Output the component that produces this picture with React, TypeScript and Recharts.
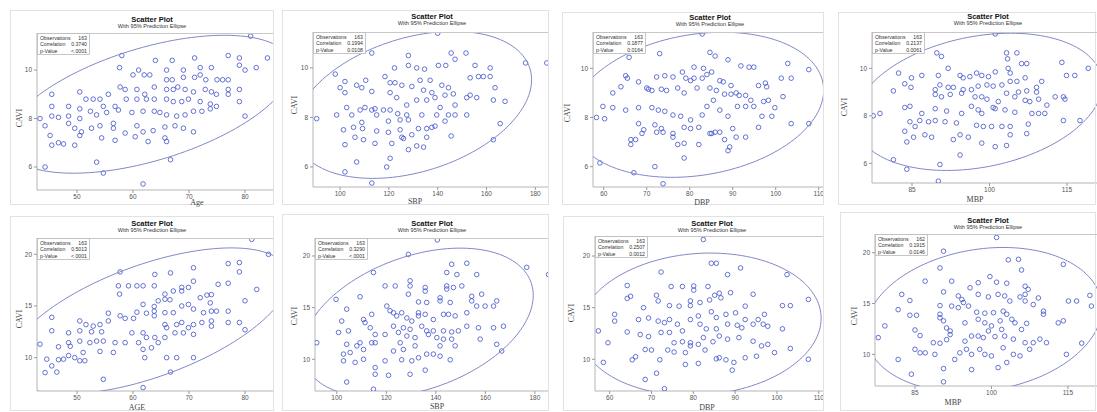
import { ScatterChart, Scatter, XAxis, YAxis } from 'recharts'

type Pt = [number, number]

// CAVI vs clinical variables
const ageCaviTop: Pt[] = [
  [81,11.4],[58,10.6],[64,10.4],[67,10.4],[71,10.5],[77,10.6],[79,10.5],[84,10.5],
  [57.6,10.1],[61,10.0],[66,10.0],[69,10.0],[72,10.1],[74,10.1],[79,10.2],[80,10.0],[82,10.1],
  [60,9.8],[62,9.8],[63,9.8],[66,9.6],[67,9.6],[69,9.7],[71,9.7],[72,9.8],[73,9.6],[75,9.6],[76,9.6],[77,9.6],
  [45.5,9.0],[50.5,9.1],[51.6,8.8],[52.9,8.8],[54.1,8.8],[55.6,9.0],[57.7,9.3],[58.6,9.2],[60.7,9.2],[62.1,9.0],[63.8,9.3],[66,9.2],[67.2,9.2],[68,9.3],[69.3,9.2],[70.8,9.1],[72.9,9.2],[74,9.1],[74.9,9.0],[77,9.2],[79,9.2],
  [45.5,8.5],[48.5,8.5],[50.5,8.4],[52.4,8.3],[54.7,8.5],[56.8,8.5],[58.8,8.8],[60.7,8.8],[62.4,8.8],[63.8,8.8],[66,8.8],[67.2,8.7],[68.7,8.7],[69.9,8.8],[72,8.7],[73.8,8.6],[74.9,8.5],[77,9.0],[79,8.7],
  [45.5,8.1],[46.7,8.05],[48.5,8.1],[50.5,8.0],[53.5,8.15],[55.3,8.25],[57.4,8.35],[59.8,8.25],[61.8,8.3],[63.8,8.3],[64.8,8.25],[66,8.15],[67.8,8.1],[69.3,8.15],[70.8,8.3],[72.3,8.3],[73.8,8.4],[80,8.1],
  [43.4,8.0],[44.3,7.7],[48.5,7.8],[49.6,7.6],[50.8,7.45],[52.6,7.6],[54.1,7.7],[56.5,7.8],[56.5,7.6],[58.6,7.4],[60.7,7.7],[61.8,7.45],[63.6,7.5],[65.7,7.65],[67.5,7.7],[69,7.6],[70.8,7.45],
  [45.2,7.3],[46.7,7.0],[45.5,6.9],[47.6,6.95],[49.6,6.9],[50.5,7.3],[54.4,7.2],[56.8,7.1],[60.4,7.25],[62.7,7.05],[65.7,7.2],[66,7.05],
  [44.3,6.0],[53.5,6.2],[54.7,5.75],[61.8,5.3],[66.7,6.3],
]

const sbpCaviTop: Pt[] = [
  [140,11.4],[113,10.6],[128,10.5],[145.5,10.6],[151.6,10.6],[176,10.2],[184.7,10.2],
  [98,9.75],[118.4,9.65],[122.3,10.0],[128,10.1],[131.4,10.0],[134.6,9.95],[140.3,10.1],[143.3,10.1],[147.1,10.35],[155.3,10.1],[161.5,10.0],
  [110.5,9.5],[102,9.45],[106.8,9.3],[108.9,9.2],[113,9.05],[120.5,9.4],[122.5,9.4],[125.3,9.3],[129.4,9.25],[132.8,9.5],[136.9,9.5],[134.2,9.1],[137.6,9.0],[141.7,9.3],[144.4,9.2],[146.4,8.95],[153.3,9.6],[156.7,9.65],[158.7,9.65],[161.5,9.65],[163.5,9.2],[167.6,8.65],
  [100,9.2],[102,9.0],[120.5,9.0],[123.2,8.8],[127.3,8.5],[131.4,8.7],[135.5,8.7],[138.9,8.8],[143,8.9],[141,8.4],[147.1,8.5],[151.9,8.8],[156,8.8],[153.3,8.9],[162.8,8.7],
  [102.7,8.4],[108.2,8.3],[110.2,8.4],[113,8.3],[114.3,8.35],[117.8,8.3],[120.5,8.3],[123.6,8.15],[127.3,8.1],[133.5,8.1],[139.6,8.1],[144.4,8.1],[147.1,8.1],[151.9,8.1],
  [90.4,7.95],[98.6,8.1],[104.8,8.1],[108.9,7.8],[115,8.1],[119.8,7.85],[124.6,7.9],[128,7.9],[132.1,7.55],[135.5,7.55],[138.9,7.65],[143,7.85],
  [101.4,7.5],[105.5,7.6],[109.2,7.55],[114.3,6.95],[115,7.45],[119.8,7.4],[124.6,7.5],[125.3,7.2],[129.4,7.3],[131.4,6.85],[135.5,7.2],[137.6,7.6],
  [102,6.9],[106.1,7.2],[109.6,7.1],[121.2,6.95],[126,7.15],[128,6.7],[134.2,6.8],[145.5,7.25],[162.8,7.1],[165.6,7.75],
  [106.8,6.2],[102,5.8],[113,5.35],[120.5,6.35],[119.1,6.0],
]

const dbpCaviTop: Pt[] = [
  [82.9,11.4],[73,10.6],[84.7,10.65],[85.9,10.5],[88.9,10.35],[65.9,10.45],[102.8,10.2],[107.7,9.95],[91.9,10.1],[93.8,10.05],[94.9,10.05],[81,10.05],[83.2,10.0],[78.3,9.85],
  [65.1,9.7],[65.5,9.6],[68.1,9.45],[64,9.25],[62.1,9.0],[70.4,9.15],[72.3,9.65],[74.2,9.7],[76.1,9.65],[79.1,9.6],[80.2,9.5],[81,9.6],[82.9,9.6],[84,9.75],[85.1,9.85],[87,9.5],[87.8,9.45],[89.6,9.3],[91.5,8.9],[93,8.9],[96,9.3],[97.6,9.4],[97.9,9.25],[101.3,9.6],[103.6,9.6],
  [70,9.2],[71.2,9.1],[73.4,9.15],[74.6,9.1],[77.2,9.2],[78.7,9.0],[81.7,9.2],[84.7,9.2],[86.2,9.1],[88.1,8.95],[89.6,8.95],[90.8,9.0],[94.2,8.7],[97.2,8.65],[98.3,8.7],[99.8,8.4],[101.7,8.85],
  [59.8,8.45],[62.1,8.4],[65.1,8.3],[68.1,8.4],[71.2,8.4],[72.7,8.3],[74.2,8.25],[76.1,8.1],[77.9,8.05],[80.2,7.9],[82.9,8.1],[84,8.45],[85.5,8.7],[87,8.3],[88.9,8.05],[91.1,8.45],[93,8.45],[94.9,8.45],[96.8,8.05],[99.1,8.05],
  [58.3,8.0],[60.2,7.95],[68.1,7.75],[69.3,7.5],[71.9,7.7],[73.4,7.55],[76.1,7.35],[78.7,7.6],[80.2,7.55],[82.1,7.6],[85.1,7.35],[87,7.4],[90,7.55],[96,7.6],[103.6,7.75],[107.7,7.75],
  [66.3,7.1],[68.9,7.35],[72.3,7.4],[73.8,7.4],[76.1,7.2],[77.2,6.9],[78.7,6.95],[82.1,6.9],[84.7,7.35],[85.9,7.4],[88.1,7.1],[90.8,7.2],[93,7.2],[66.3,6.9],[67.4,7.1],
  [78.7,6.35],[88.9,6.65],[89.3,6.8],[59.1,6.15],[67,5.75],[71.9,6.0],[73.8,5.3],
]

const mbpCaviTop: Pt[] = [
  [101.1,11.45],[89.8,10.65],[90.7,10.5],[103.3,10.65],[105.3,10.65],[103.5,10.4],[114,10.25],[119.1,10.0],
  [82.4,9.8],[84.9,9.6],[86.9,9.7],[90.1,9.7],[92,10.0],[94.3,9.7],[94.9,9.6],[96.2,9.65],[97.5,9.8],[98.5,9.7],[99.8,9.65],[101.1,9.85],[103.6,10.0],[106.2,10.2],[107.2,10.2],[104,9.8],[106.9,9.6],[110.1,9.45],[114.9,9.7],[116.5,9.7],
  [81.4,9.05],[83.6,9.35],[84.8,9.2],[89.5,9.1],[90.4,9.3],[92,9.2],[93,9.2],[94.9,9.1],[96.5,9.1],[97.8,9.25],[99.5,9.3],[100.7,9.25],[102.4,9.3],[104,9.45],[105.3,9.45],[105.6,9.0],[107.2,9.05],[109.1,9.2],[109.1,9.0],[112.7,8.8],[114.3,8.8],[114.6,8.7],
  [83.6,8.35],[84.6,8.4],[89.5,8.9],[90.7,8.8],[92.4,8.9],[94.6,8.95],[97.2,8.8],[98.5,8.8],[99.5,8.7],[100.7,8.35],[101.7,8.6],[103.3,8.95],[104.9,8.8],[106.9,8.65],[107.8,8.6],[109.5,8.7],[111.1,8.45],
  [86.9,8.1],[89.5,8.3],[91.7,8.2],[94.6,8.1],[96.5,8.4],[97.8,8.25],[98.5,8.1],[101.1,8.3],[103,8.25],[104.9,8.15],[108.2,8.1],[109.5,8.1],[110.7,8.1],[77.5,8.0],[78.8,8.1],
  [84.6,7.75],[85.6,7.55],[86.5,7.8],[88.2,7.75],[89.5,7.8],[91.4,7.75],[93.6,7.7],[97.5,7.6],[98.8,7.55],[100.4,7.55],[102.4,7.55],[104,7.55],[107.5,7.65],[114.3,7.8],[117.5,7.8],
  [83.6,7.35],[85.3,7.1],[87.5,7.2],[88.8,7.1],[93,7.0],[94.3,7.2],[95.9,7.1],[98.5,6.85],[101.1,6.7],[103.3,6.75],[104,7.2],[107.2,7.25],[84,6.9],
  [81.4,6.15],[84,5.75],[90.4,5.95],[94.3,6.35],[90.1,5.25],
]

const ageCaviBottom: Pt[] = [
  [81.2,21.45],[84.2,20.0],[70.8,18.7],[57.7,18.3],[63.9,18.05],[66.7,18.2],[77,19.1],[79,19.2],[79,18.3],
  [70.8,17.4],[68.7,16.8],[68.7,16.45],[69.9,16.8],[67.2,16.45],[65.7,16.15],[60.7,16.95],[61.8,16.95],[63.8,16.95],[57.4,16.95],[59.2,16.95],[57.6,16.15],[77,17.2],[75.2,17.1],[73.2,16.05],[72,15.8],[74,16.1],[80,15.5],[82.1,16.6],
  [65.7,15.65],[64.5,15.5],[66.6,15.6],[61.8,15.15],[63.8,14.95],[62.4,14.3],[63.8,14.5],[63.8,14.05],[65.7,14.35],[67.2,14.35],[68.7,15.0],[69.9,15.15],[70.8,14.7],[72.6,14.35],[73.8,15.3],[74,14.5],[74.9,14.5],[77,14.5],
  [55.6,14.3],[57.7,14.05],[58.6,13.8],[60.1,13.8],[60.7,14.4],[65.7,13.2],[66,12.9],[67.8,13.2],[68.7,13.4],[69.9,12.9],[70.8,13.2],[72.3,13.4],[74,13.55],[74,13.05],[77,13.4],[79,13.4],
  [45.5,13.9],[50.5,13.55],[51.6,13.2],[52.9,13.05],[54.1,13.2],[55.6,13.55],[45.5,12.6],[48.5,12.4],[50.5,12.6],[52.6,12.5],[54.4,12.5],[59.8,12.4],[61.8,12.4],[62.4,11.95],[63.9,11.95],[65.7,11.95],[67.5,12.4],[69,12.4],[70.8,12.25],[80,12.7],
  [43.4,11.3],[46.7,11.05],[48.5,11.45],[48.8,11.1],[50.5,11.6],[52.3,11.45],[53.5,11.6],[54.7,11.6],[56.8,11.45],[58.6,11.45],[61,11.45],[61.8,10.8],[63.3,10.95],[64.5,11.45],
  [56.5,10.5],[54.1,10.6],[51.1,10.5],[49.6,10.0],[50.5,9.7],[51.4,9.7],[48.5,10.2],[47.6,9.85],[46.7,9.8],[44.6,9.85],[45.5,9.2],[46.4,8.6],[44.3,8.55],
  [67.8,10.0],[66,10.0],[70.8,10.0],[62.1,10.0],[66.7,8.6],[54.7,7.9],[61.8,7.1],
]

const sbpCaviBottom: Pt[] = [
  [140.6,21.55],[128.9,20.15],[152.5,19.3],[176.7,18.9],[185.5,18.2],[114.8,18.4],[146.4,19.2],[156.5,18.2],[144.4,18.4],[148.5,18.2],[158.5,16.3],
  [99.7,15.8],[104,14.85],[109.4,16.05],[119.5,17.1],[123.6,17.1],[129.6,17.6],[129.6,17.1],[135.7,16.95],[135.7,16.6],[144.4,17.1],[144.4,16.8],[147.1,16.95],[150.5,17.1],[154.5,16.1],[154.5,15.65],
  [128.9,16.3],[133,15.55],[136.3,15.5],[141.7,15.95],[141.7,15.65],[145.8,15.5],[147.8,14.2],[152.5,14.5],[156.5,15.15],[159.9,15.15],[163.3,15.15],[164.6,15.65],
  [102,13.7],[114.1,14.35],[110.8,13.85],[111.4,13.55],[113.5,13.05],[120.2,15.15],[121.5,14.7],[122.9,14.5],[124.2,14.2],[126.2,14.5],[128.3,14.0],[130.3,13.7],[133,14.5],[133,14.2],[135.7,14.35],[139,13.85],[143.1,14.35],[145.1,14.35],[152.5,13.2],[157.2,13.05],[167.3,13.2],[163.3,13.05],
  [104.7,12.75],[115.5,12.4],[122.9,13.2],[126.9,13.05],[129.6,12.9],[134.3,13.2],[136.3,12.75],[139,12.75],[143.1,12.75],[146.4,12.65],[149.1,12.75],
  [115.5,11.6],[119.5,12.4],[124.9,12.6],[125.6,11.6],[128.3,12.25],[131.6,12.1],[137,12.4],[140.4,12.1],[141.7,11.3],[143.1,11.95],[146.4,11.95],[147.8,11.3],[157.9,11.95],[164.6,11.45],[166.6,10.8],
  [91.9,11.6],[100.7,12.6],[109.4,11.6],[110.8,10.95],[114.1,11.6],[108.1,11.3],[104,11.45],[105.4,10.65],[102.7,10.5],[122.9,10.8],[126.9,10.95],[131.6,11.3],[139,10.5],[141.7,10.3],[136.3,10.5],[133,10.15],
  [102.7,9.85],[107.4,9.7],[110.8,10.0],[115.5,9.2],[119.5,9.85],[126.2,9.95],[130.3,9.85],[145.8,9.95],
  [104,7.8],[115.5,8.55],[120.9,8.45],[129.6,8.55],[135.7,8.95],[114.8,7.1],
]

const dbpCaviBottom: Pt[] = [
  [82.4,21.6],[84.3,19.3],[85.5,19.3],[88.2,18.2],[91.3,18.85],[72.3,18.45],[102.4,18.2],
  [64.2,17.15],[65,16.1],[64.2,15.9],[71.2,16.2],[74.7,17.05],[77.4,17.05],[80.1,17.1],[80.1,16.7],[83.5,17.05],[85.1,16.2],[86.2,16.4],[86.6,15.95],[88.9,16.45],[94.3,16.3],[101.3,15.2],[103.2,15.2],[107.5,15.8],
  [68.1,15.0],[71.6,15.65],[74.3,15.2],[76.6,15.15],[79.3,15.65],[79.3,15.2],[81.6,15.5],[83.9,15.75],[84.3,14.6],[85.5,14.05],[87.8,14.35],[90.1,14.5],[92.4,15.15],[92.4,13.85],[95.5,13.85],[97,14.35],
  [61.2,14.35],[61.2,13.7],[66.9,13.85],[69.3,14.0],[71.6,13.7],[73.1,13.55],[74.3,13.85],[76.2,13.4],[77.4,12.75],[79.3,13.85],[81.2,14.2],[81.6,13.4],[83.1,12.95],[85.5,12.95],[88.2,13.4],[90.5,13.3],[91.6,13.05],[94.3,13.4],[96.7,13.4],[97.8,13.2],[101.3,12.95],
  [57.3,12.75],[59.6,11.6],[64.2,12.65],[67.3,12.4],[69.3,12.2],[72.3,12.6],[74.3,12.6],[75.4,11.6],[77.4,11.7],[79.3,11.6],[81.2,11.45],[82.4,12.1],[84.7,11.7],[86.2,12.25],[88.2,11.95],[90.9,12.1],[94.3,11.75],[97.8,11.45],[96.3,11.3],[103.2,11.05],[107.5,10.0],
  [58.5,9.7],[65.4,9.95],[66.2,10.25],[68.5,10.95],[70,10.9],[72,9.95],[73.9,10.9],[75.4,10.7],[78.1,10.65],[79.3,11.3],[82.8,10.9],[85.5,10.05],[86.2,10.15],[89.7,9.7],[92.4,10.15],[95.1,10.3],[99.4,10.65],
  [68.5,8.05],[71.2,8.65],[73.1,7.15],[78.1,9.5],[81.2,9.6],[87.8,9.95],[89.3,8.95],
]

const mbpCaviBottom: Pt[] = [
  [101,21.5],[90.6,20.15],[103.3,19.3],[105.3,19.35],[114.1,18.85],[89.9,18.5],[105.9,18.3],[99.7,17.65],[92.2,17.2],[87,17.2],[95.8,16.55],[97.4,17.05],[101,17.1],[103,17.0],[106.6,16.7],[107.2,16.4],[106.6,15.9],[109.2,15.55],
  [82.4,15.9],[84,15.3],[90.6,16.15],[93.5,15.75],[94.2,15.4],[94.5,15.1],[95.5,14.75],[97.4,15.9],[99.4,15.65],[101.3,15.9],[102.6,15.75],[103.6,15.25],[105.6,15.65],[106.6,15.25],[108.2,14.9],[110.2,14.25],[119.3,15.8],[115.1,15.25],[116.7,15.25],[119.6,14.75],
  [81.7,14.4],[84,13.85],[85.3,13.85],[89.9,14.8],[89.9,13.95],[92.2,14.75],[93.5,14.6],[97.1,14.15],[98.7,14.05],[100.4,14.1],[102.3,14.25],[103,13.95],[104,13.45],[104.6,13.1],[106.9,13.05],[110.2,13.95],
  [79.1,12.8],[85,12.4],[89.9,13.6],[90.6,13.3],[91.2,12.6],[91.9,12.3],[94.8,13.1],[97.4,13.45],[98.7,13.1],[100,12.8],[101.7,13.3],[113.1,13.1],[114.1,13.3],
  [77.8,11.65],[86,11.85],[88.6,11.15],[89.9,11.1],[91.2,11.45],[91.9,11.95],[94.8,11.3],[96.1,11.8],[97.4,11.8],[98.4,11.65],[99.4,12.3],[100.7,11.75],[102,12.45],[102.6,11.8],[104.3,11.5],[105.9,12.45],[106.6,11.15],[108.2,11.15],[109.5,11.5],[110.8,11.15],[117.7,11.1],
  [81.7,9.5],[85,10.5],[86,10.15],[87,10.15],[88.9,10.0],[92.8,9.5],[93.8,10.15],[95.1,10.5],[96.1,10.0],[97.7,10.5],[98.7,10.0],[100,9.85],[102.3,10.65],[104.3,10.0],[105.6,9.85],[107.5,10.5],[114.7,10.0],
  [84.3,8.05],[90.6,8.6],[96.1,8.5],[101.3,8.7],[90.6,7.3],[103,9.2],
]

const ageTicks = [50, 60, 70, 80]
const sbpTicks = [100, 120, 140, 160, 180]
const dbpTicks = [60, 70, 80, 90, 100, 110]
const mbpTicks = [85, 100, 115]
const caviTicksTop = [6, 8, 10]
const caviTicksBottom = [10, 15, 20]

const observations = ['163', '163', '163', '163', '163', '163', '163', '162']
const correlations = ['0.3740', '0.1994', '0.1877', '0.2137', '0.5013', '0.3290', '0.2507', '0.1915']
const pValues = ['<.0001', '0.0108', '0.0164', '0.0061', '<.0001', '<.0001', '0.0012', '0.0146']

const MARK = '#3f50c6'
const ELLIPSE = '#8189c6'
const FONT = '"Liberation Sans", Arial, sans-serif'

// 95% prediction ellipse from the sample mean / covariance
function predictionEllipse(pts: Pt[]) {
  const n = pts.length
  const mx = pts.reduce((s, p) => s + p[0], 0) / n
  const my = pts.reduce((s, p) => s + p[1], 0) / n
  let sxx = 0, syy = 0, sxy = 0
  pts.forEach(([x, y]) => {
    sxx += (x - mx) ** 2
    syy += (y - my) ** 2
    sxy += (x - mx) * (y - my)
  })
  sxx /= n - 1; syy /= n - 1; sxy /= n - 1
  const k = Math.sqrt(((2 * (n - 1) * (n + 1)) / (n * (n - 2))) * 3.05)
  const l11 = Math.sqrt(sxx)
  const l21 = sxy / l11
  const l22 = Math.sqrt(syy - l21 * l21)
  const out: { x: number; y: number }[] = []
  for (let i = 0; i <= 144; i++) {
    const t = (i / 144) * Math.PI * 2
    const u = Math.cos(t) * k
    const v = Math.sin(t) * k
    out.push({ x: mx + l11 * u, y: my + l21 * u + l22 * v })
  }
  return out
}

interface PanelCfg {
  pts: Pt[]
  cell: [number, number, number, number]
  plot: [number, number, number, number]
  frame: [number, number]
  xDomain: [number, number]
  yDomain: [number, number]
  xTicks: number[]
  yTicks: number[]
  xLabel: string
  xLabelPos: [number, number]
  yLabelPos: [number, number]
  titlePos: [number, number]
}

const panels: PanelCfg[] = [
  { pts: ageCaviTop, cell: [0, 0, 275, 206], plot: [37, 33, 273, 190], frame: [10, 10], xDomain: [42.86, 85], yDomain: [5.05, 11.53], xTicks: ageTicks, yTicks: caviTicksTop, xLabel: 'Age', xLabelPos: [197, 203], yLabelPos: [20, 118], titlePos: [152, 20] },
  { pts: sbpCaviTop, cell: [275, 0, 275, 206], plot: [313, 32, 548, 187], frame: [282, 10], xDomain: [88.9, 185.2], yDomain: [5.19, 11.45], xTicks: sbpTicks, yTicks: caviTicksTop, xLabel: 'SBP', xLabelPos: [415, 202], yLabelPos: [295, 105], titlePos: [432, 17] },
  { pts: dbpCaviTop, cell: [550, 0, 275, 206], plot: [593, 32, 823, 187], frame: [562, 12], xDomain: [57.5, 111], yDomain: [5.17, 11.48], xTicks: dbpTicks, yTicks: caviTicksTop, xLabel: 'DBP', xLabelPos: [702, 203], yLabelPos: [568, 113], titlePos: [710, 18] },
  { pts: mbpCaviTop, cell: [825, 0, 272, 206], plot: [872, 32, 1097, 183], frame: [838, 12], xDomain: [77.26, 120.8], yDomain: [5.17, 11.53], xTicks: mbpTicks, yTicks: caviTicksTop, xLabel: 'MBP', xLabelPos: [975, 200], yLabelPos: [845, 107], titlePos: [988, 17] },
  { pts: ageCaviBottom, cell: [0, 206, 275, 206], plot: [37, 238, 273, 391], frame: [10, 216], xDomain: [42.86, 85], yDomain: [6.77, 21.58], xTicks: ageTicks, yTicks: caviTicksBottom, xLabel: 'AGE', xLabelPos: [137, 408], yLabelPos: [20, 319], titlePos: [152, 224] },
  { pts: sbpCaviBottom, cell: [275, 206, 275, 206], plot: [315, 238, 548, 391], frame: [282, 214], xDomain: [91.2, 185.3], yDomain: [6.93, 21.74], xTicks: sbpTicks, yTicks: caviTicksBottom, xLabel: 'SBP', xLabelPos: [437, 407], yLabelPos: [295, 316], titlePos: [432, 224] },
  { pts: dbpCaviBottom, cell: [550, 206, 275, 206], plot: [595, 236, 823, 391], frame: [563, 216], xDomain: [56.5, 111], yDomain: [6.93, 21.94], xTicks: dbpTicks, yTicks: caviTicksBottom, xLabel: 'DBP', xLabelPos: [707, 408], yLabelPos: [572, 313], titlePos: [712, 224] },
  { pts: mbpCaviBottom, cell: [825, 206, 272, 206], plot: [875, 234, 1097, 386], frame: [840, 212], xDomain: [77.16, 120.7], yDomain: [6.89, 21.84], xTicks: mbpTicks, yTicks: caviTicksBottom, xLabel: 'MBP', xLabelPos: [953, 403], yLabelPos: [855, 316], titlePos: [988, 221] },
]

const tickStyle = { fontSize: 6.5, fill: '#555', fontFamily: FONT }

function Marker(props: any) {
  const { cx, cy } = props
  if (cx == null || cy == null) return <g />
  return <circle cx={cx} cy={cy} r={2.3} fill="none" stroke={MARK} strokeWidth={0.8} />
}

function Panel({ p }: { p: PanelCfg }) {
  const [cx, cy, cw, ch] = p.cell
  const [pl, pt, pr, pb] = p.plot
  const pts = p.pts.map(([x, y]) => ({ x, y }))
  const ell = predictionEllipse(p.pts)
  return (
    <div style={{ position: 'absolute', left: cx, top: cy }}>
      <ScatterChart
        width={cw} height={ch}
        margin={{ top: pt - cy, right: cx + cw - pr, bottom: 0, left: 0 }}
      >
        <XAxis
          type="number" dataKey="x" domain={p.xDomain} ticks={p.xTicks} allowDataOverflow
          height={cy + ch - pb} interval={0} tick={tickStyle} tickSize={3} tickMargin={1}
          axisLine={{ stroke: '#b5b5b5' }} tickLine={{ stroke: '#999' }}
        />
        <YAxis
          type="number" dataKey="y" domain={p.yDomain} ticks={p.yTicks} allowDataOverflow
          width={pl - cx} interval={0} tick={tickStyle} tickSize={3} tickMargin={2}
          axisLine={{ stroke: '#b5b5b5' }} tickLine={{ stroke: '#999' }}
        />
        <Scatter data={pts} shape={Marker} isAnimationActive={false} />
        <Scatter
          data={ell} shape={() => <g />} line={{ stroke: ELLIPSE, strokeWidth: 1 }}
          isAnimationActive={false}
        />
      </ScatterChart>
    </div>
  )
}

function Overlay() {
  return (
    <svg width={1097} height={412} style={{ position: 'absolute', left: 0, top: 0, pointerEvents: 'none' }}>
      {panels.map((p, i) => {
        const [cx, cy, cw, ch] = p.cell
        const [pl, pt, pr] = p.plot
        const [fx, fy] = p.frame
        return (
          <g key={i} fontFamily={FONT}>
            <rect x={fx + 0.5} y={fy + 0.5} width={cx + cw - fx - 2} height={cy + ch - fy - 2} fill="none" stroke="#e2e2e2" />
            <line x1={pl} x2={pr} y1={pt + 0.5} y2={pt + 0.5} stroke="#c8c8c8" />
            <text x={p.titlePos[0]} y={p.titlePos[1]} textAnchor="middle" dominantBaseline="middle" fontSize={7.5} fontWeight="bold" fill="#111">
              Scatter Plot
            </text>
            <text x={p.titlePos[0]} y={p.titlePos[1] + 6.5} textAnchor="middle" dominantBaseline="middle" fontSize={5.6} fill="#333">
              With 95% Prediction Ellipse
            </text>
            <rect x={pl + 0.5} y={pt + 0.5} width={52} height={21} fill="#fff" stroke="#b8b8b8" strokeWidth={0.8} />
            {[['Observations', observations[i]], ['Correlation', correlations[i]], ['p-Value', pValues[i]]].map(([k, v], r) => (
              <g key={k} fontSize={5.2} fill="#333">
                <text x={pl + 3} y={pt + 6.5 + r * 6.8}>{k}</text>
                <text x={pl + 50} y={pt + 6.5 + r * 6.8} textAnchor="end">{v}</text>
              </g>
            ))}
            <text x={p.xLabelPos[0]} y={p.xLabelPos[1]} textAnchor="middle" dominantBaseline="middle" fontSize={8} fill="#444" fontFamily='"Liberation Serif", serif'>
              {p.xLabel}
            </text>
            <text
              x={p.yLabelPos[0]} y={p.yLabelPos[1]} textAnchor="middle" dominantBaseline="middle"
              fontSize={8} fill="#444" fontFamily='"Liberation Serif", serif'
              transform={`rotate(-90 ${p.yLabelPos[0]} ${p.yLabelPos[1]})`}
            >
              CAVI
            </text>
          </g>
        )
      })}
    </svg>
  )
}

export default function App() {
  return (
    <div style={{ position: 'absolute', left: 0, top: 0, width: 1097, height: 412, background: '#fff', overflow: 'hidden' }}>
      {panels.map((p, i) => <Panel key={i} p={p} />)}
      <Overlay />
    </div>
  )
}
